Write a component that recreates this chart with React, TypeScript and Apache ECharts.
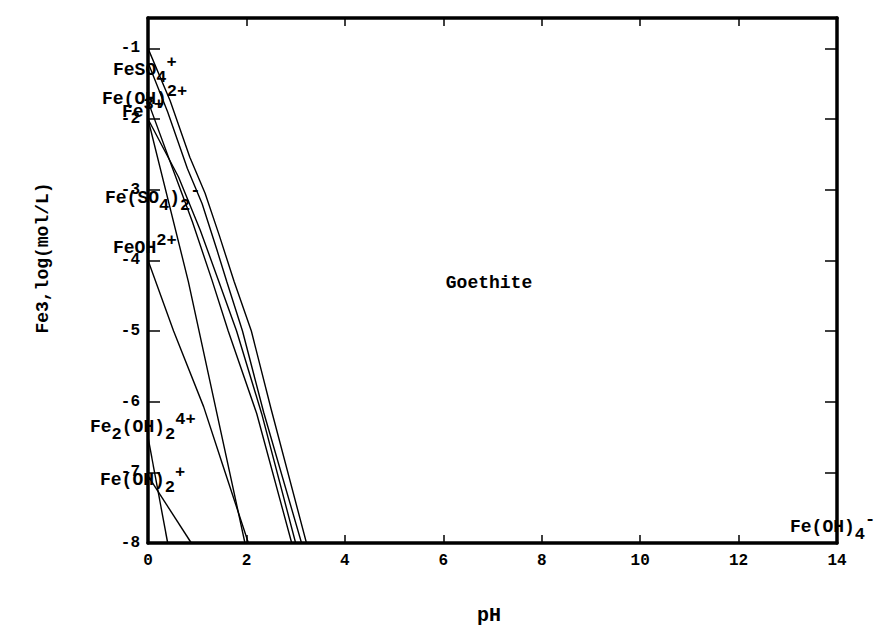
import React, { useEffect, useRef } from "react";
import * as echarts from "echarts";

// ---- data (pH, log activity) ----
const xTickValues = [0, 2, 4, 6, 8, 10, 12, 14];
const yTickValues = [-8, -7, -6, -5, -4, -3, -2, -1];

const lineFeSO4a = [[0, -1.0], [0.45, -1.74], [0.85, -2.54], [1.16, -3.05], [1.45, -3.65], [1.75, -4.3], [2.1, -5.0], [2.5, -6.1], [3.22, -8]];
const lineFeSO4b = [[0, -1.2], [0.4, -1.9], [0.8, -2.7], [1.1, -3.2], [1.4, -3.85], [1.6, -4.3], [1.92, -5.0], [2.35, -6.15], [3.12, -8]];
const lineFe3b = [[0, -2.0], [0.62, -2.82], [1.06, -3.57], [1.43, -4.28], [1.8, -5.0], [2.31, -6.17], [3.0, -8]];
const lineFeOH2a = [[0, -1.75], [0.5, -2.7], [0.9, -3.45], [1.3, -4.28], [1.63, -5.0], [2.21, -6.17], [2.92, -8]];
const lineFe3 = [[0, -2.0], [0.82, -4.3], [1.97, -8]];
const lineFeOH = [[0, -4.0], [0.52, -5.0], [1.13, -6.07], [1.53, -6.92], [2.04, -8]];
const lineFe2OH2 = [[0, -6.5], [0.4, -8]];
const lineFeOH2 = [[0, -7.05], [0.88, -8]];

const allLines = [lineFeSO4a, lineFeSO4b, lineFe3b, lineFeOH2a, lineFe3, lineFeOH, lineFe2OH2, lineFeOH2];

const FONT = "Liberation Mono";

const rich = {
  b: { fontFamily: FONT, fontWeight: "bold", fontSize: 18, lineHeight: 32, verticalAlign: "middle", fill: "#000" },
  s: { fontFamily: FONT, fontWeight: "bold", fontSize: 17, lineHeight: 18, verticalAlign: "bottom", fill: "#000" },
  p: { fontFamily: FONT, fontWeight: "bold", fontSize: 17, lineHeight: 18, verticalAlign: "top", fill: "#000" },
};

const speciesLabels = [
  { x: 113, y: 70, t: "{b|FeSO}{s|4}{p|+}" },
  { x: 102, y: 99, t: "{b|Fe(OH)}{p|2+}" },
  { x: 122, y: 112, t: "{b|Fe}{p|3+}" },
  { x: 105, y: 198, t: "{b|Fe(SO}{s|4}{b|)}{s|2}{p|-}" },
  { x: 113, y: 248, t: "{b|FeOH}{p|2+}" },
  { x: 90, y: 427, t: "{b|Fe}{s|2}{b|(OH)}{s|2}{p|4+}" },
  { x: 100, y: 480, t: "{b|Fe(OH)}{s|2}{p|+}" },
  { x: 790, y: 527, t: "{b|Fe(OH)}{s|4}{p|-}" },
];

export default function App() {
  const ref = useRef<HTMLDivElement>(null);
  useEffect(() => {
    const chart = echarts.init(ref.current!, null, { renderer: "svg" });
    const axisLine = { show: true, onZero: false, lineStyle: { color: "#000", width: 3.5 } };
    const tick = (len: number) => ({ show: true, inside: true, length: len, lineStyle: { color: "#000", width: 1.5 } });
    const lbl = { color: "#000", fontFamily: FONT, fontWeight: "bold", fontSize: 16 };
    chart.setOption({
      animation: false,
      backgroundColor: "#fff",
      grid: { left: 148, right: 37, top: 18, bottom: 83, containLabel: false },
      xAxis: [
        {
          type: "value", min: 0, max: 14, interval: 2, position: "bottom",
          axisLine, axisTick: tick(8), splitLine: { show: false },
          axisLabel: { ...lbl, margin: 10, formatter: (v: number) => (xTickValues.includes(v) ? String(v) : "") },
        },
        {
          type: "value", min: 0, max: 14, interval: 2, position: "top",
          axisLine, axisTick: tick(8), splitLine: { show: false }, axisLabel: { show: false },
        },
      ],
      yAxis: [
        {
          type: "value", min: -8, max: -0.57, interval: 1, position: "left",
          axisLine, axisTick: tick(12), splitLine: { show: false },
          axisLabel: { ...lbl, margin: 8, formatter: (v: number) => (yTickValues.includes(v) ? String(v) : "") },
        },
        {
          type: "value", min: -8, max: -0.57, interval: 1, position: "right",
          axisLine, axisTick: tick(12), splitLine: { show: false }, axisLabel: { show: false },
        },
      ],
      series: allLines.map((d) => ({
        type: "line",
        data: d,
        xAxisIndex: 0,
        yAxisIndex: 0,
        showSymbol: false,
        symbol: "none",
        silent: true,
        lineStyle: { color: "#000", width: 1.4 },
      })),
      graphic: [
        ...speciesLabels.map((l) => ({
          type: "text", x: l.x, y: l.y, z: 100,
          style: { text: l.t, rich, fill: "#000", align: "left", verticalAlign: "middle", textAlign: "left", textVerticalAlign: "middle" },
        })),
        {
          type: "text", x: 489, y: 283, z: 100,
          style: { text: "Goethite", fill: "#000", font: `bold 18px "${FONT}"`, align: "center", verticalAlign: "middle", textAlign: "center", textVerticalAlign: "middle" },
        },
        {
          type: "text", x: 489, y: 615, z: 100,
          style: { text: "pH", fill: "#000", font: `bold 20px "${FONT}"`, align: "center", verticalAlign: "middle", textAlign: "center", textVerticalAlign: "middle" },
        },
        {
          type: "text", x: 43, y: 258, rotation: Math.PI / 2, z: 100,
          style: { text: "Fe3,log(mol/L)", fill: "#000", font: `bold 18px "${FONT}"`, align: "center", verticalAlign: "middle", textAlign: "center", textVerticalAlign: "middle" },
        },
      ],
    });
    return () => chart.dispose();
  }, []);
  return <div ref={ref} style={{ position: "absolute", left: 0, top: 0, width: 874, height: 626 }} />;
}
